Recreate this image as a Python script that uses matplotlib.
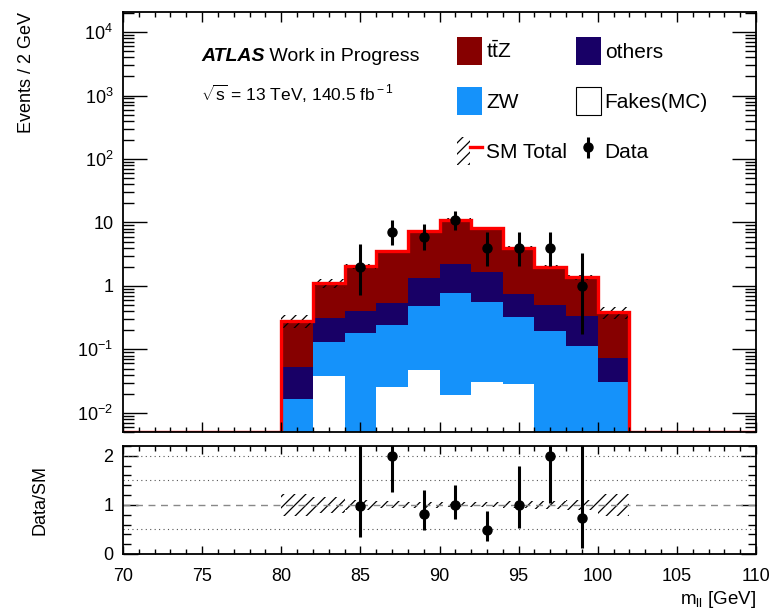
import numpy as np
import matplotlib
matplotlib.use('Agg')
import matplotlib.pyplot as plt
from matplotlib.patches import Patch
from matplotlib.lines import Line2D
from matplotlib.legend_handler import HandlerTuple
from matplotlib.ticker import MultipleLocator, LogLocator, FuncFormatter, NullFormatter

plt.rcParams['font.family'] = 'Liberation Sans'
plt.rcParams['mathtext.fontset'] = 'custom'
plt.rcParams['mathtext.rm'] = 'Liberation Sans'
plt.rcParams['mathtext.it'] = 'Liberation Sans:italic'
plt.rcParams['mathtext.bf'] = 'Liberation Sans:bold'
plt.rcParams['hatch.linewidth'] = 0.9

# m_ll binning, 2 GeV bins
edges = np.arange(80, 104, 2)

# stacked backgrounds (events per bin), bottom to top
fakes = [0.0, 0.0387, 0.0, 0.026, 0.0475, 0.0194, 0.0304, 0.0283, 0.0, 0.0, 0.0]
zw = [0.0164, 0.0943, 0.184, 0.217, 0.4365, 0.7656, 0.5356, 0.2927, 0.196, 0.115, 0.0311]
others = [0.0372, 0.177, 0.220, 0.303, 0.866, 1.415, 1.074, 0.419, 0.306, 0.226, 0.0432]
ttz = [0.230, 0.79, 1.64, 2.95, 5.95, 8.8, 6.56, 3.26, 1.50, 1.03, 0.311]

# relative uncertainty on SM total
rel_unc = [0.22, 0.16, 0.10, 0.07, 0.06, 0.05, 0.05, 0.07, 0.08, 0.10, 0.22]

# data with Poisson 68% intervals
data_x = [85, 87, 89, 91, 93, 95, 97, 99]
data_y = [2, 7, 6, 11, 4, 4, 4, 1]
data_lo = [0.708, 4.42, 3.62, 7.74, 2.09, 2.09, 2.09, 0.173]
data_hi = [4.64, 10.77, 9.58, 15.42, 7.16, 7.16, 7.16, 3.30]

c_ttz = '#860000'
c_oth = '#180066'
c_zw = '#1592FA'

ymin, ymax = 5.0e-3, 2.07e4
floor = 1e-6

fig = plt.figure(figsize=(7.73, 6.11), dpi=100)
ax = fig.add_axes([0.1591, 0.2930, 0.8190, 0.6874])
rax = fig.add_axes([0.1591, 0.0933, 0.8190, 0.1768], sharex=ax)

# stack
layers = [(fakes, 'white'), (zw, c_zw), (others, c_oth), (ttz, c_ttz)]
base = np.zeros(len(ttz))
for vals, col in layers:
    top = base + np.array(vals)
    ax.stairs(np.maximum(top, floor), edges, baseline=np.maximum(base, floor),
              fill=True, color=col, lw=0)
    base = top
total = base
rel = np.array(rel_unc)

ax.stairs(total * (1 + rel), edges, baseline=total * (1 - rel), fill=True,
          facecolor='none', edgecolor='black', hatch='///', lw=0)

# SM total outline across the whole range
full_edges = np.concatenate([[70], edges, [110]])
full_total = np.concatenate([[ymin], total, [ymin]])
ax.stairs(full_total, full_edges, color='#FF0000', lw=2.4, baseline=None)

dy = np.array(data_y, dtype=float)
yerr = [dy - np.array(data_lo), np.array(data_hi) - dy]
h_data = ax.errorbar(data_x, dy, yerr=yerr, fmt='o', color='black', ms=6.5,
                     elinewidth=2.2, capsize=0)

ax.set_yscale('log')
ax.set_xlim(70, 110)
ax.set_ylim(ymin, ymax)


def log_fmt(v, pos):
    n = int(round(np.log10(v)))
    if n == 0:
        return '1'
    if n == 1:
        return '10'
    return r'$10^{%d}$' % n


ax.yaxis.set_major_locator(LogLocator(base=10, numticks=20))
ax.yaxis.set_minor_locator(LogLocator(base=10, subs=np.arange(2, 10), numticks=20))
ax.yaxis.set_major_formatter(FuncFormatter(log_fmt))
ax.yaxis.set_minor_formatter(NullFormatter())
ax.xaxis.set_major_locator(MultipleLocator(5))
ax.xaxis.set_minor_locator(MultipleLocator(1))
ax.tick_params(axis='x', which='both', direction='in', top=True, labelbottom=False)
ax.tick_params(axis='x', which='major', length=7, width=1)
ax.tick_params(axis='x', which='minor', length=3.6, width=1)
ax.tick_params(axis='y', which='both', direction='in', right=True, labelsize=13, pad=7)
ax.tick_params(axis='y', which='major', length=17, width=1)
ax.tick_params(axis='y', which='minor', length=8, width=1)
for s in ax.spines.values():
    s.set_linewidth(1.3)

# ratio panel
idx = [(x - 80) // 2 for x in data_x]
tot_at = total[idx]
ratio = dy / tot_at
rerr = [yerr[0] / tot_at, yerr[1] / tot_at]

for yv in [0.5, 1.5, 2.0]:
    rax.axhline(yv, color='#555555', ls=(0, (1, 3)), lw=0.8)
rax.axhline(1.0, color='#888888', ls=(0, (5, 4)), lw=1.0)
rax.stairs(1 + rel, edges, baseline=1 - rel, fill=True, facecolor='none',
           edgecolor='black', hatch='///', lw=0)
rax.errorbar(data_x, ratio, yerr=rerr, fmt='o', color='black', ms=6.5,
             elinewidth=2.2, capsize=0)

rax.set_ylim(0, 2.2)
rax.yaxis.set_major_locator(MultipleLocator(1))
rax.yaxis.set_minor_locator(MultipleLocator(0.2))
rax.tick_params(axis='x', which='both', direction='in', top=True, labelsize=13, pad=10)
rax.tick_params(axis='x', which='major', length=6, width=1)
rax.tick_params(axis='x', which='minor', length=3.6, width=1)
rax.tick_params(axis='y', which='both', direction='in', right=True, labelsize=13, pad=7)
rax.tick_params(axis='y', which='major', length=11, width=1)
rax.tick_params(axis='y', which='minor', length=6, width=1)
for s in rax.spines.values():
    s.set_linewidth(1.3)

fig.text(27 / 773, 1 - 12 / 611, 'Events / 2 GeV', rotation=90, ha='center',
         va='top', fontsize=13)
fig.text(40 / 773, 1 - 500 / 611, 'Data/SM', rotation=90, ha='center',
         va='center', fontsize=13)
fig.text(756 / 773, 1 - 610 / 611, r'm$_{\rm ll}$ [GeV]', ha='right',
         va='bottom', fontsize=13.5)

# ATLAS label
t1 = fig.text(201 / 773, 1 - 61 / 611, 'ATLAS', fontsize=14, fontweight='bold',
              fontstyle='italic', va='baseline')
ax.annotate(' Work in Progress', xy=(1, 0), xycoords=t1, fontsize=14,
            va='bottom', ha='left')
fig.text(201 / 773, 1 - 101 / 611, r'$\sqrt{\rm s}$ = 13 TeV, 140.5 fb$^{\rm -1}$',
         fontsize=12.5, va='baseline')

h_ttz = Patch(facecolor=c_ttz, edgecolor='none')
h_zw = Patch(facecolor=c_zw, edgecolor='none')
h_oth = Patch(facecolor=c_oth, edgecolor='none')
h_fake = Patch(facecolor='white', edgecolor='black', lw=0.8)
h_sm = (Patch(facecolor='none', edgecolor='black', hatch='///', lw=0),
        Line2D([], [], color='#FF0000', lw=2.4))

leg = ax.legend([h_ttz, h_zw, h_sm, h_oth, h_fake, h_data],
                [r'$\mathrm{t\bar{t}Z}$', 'ZW', 'SM Total', 'others', 'Fakes(MC)', 'Data'],
                ncol=2, loc='upper left', bbox_to_anchor=(457 / 773, 1 - 37 / 611),
                bbox_transform=fig.transFigure, frameon=False, fontsize=15,
                handlelength=1.2, handleheight=1.7, handletextpad=0.2,
                labelspacing=1.05, columnspacing=0.4, borderpad=0, borderaxespad=0,
                handler_map={tuple: HandlerTuple(ndivide=None)})

fig.savefig('out.png', dpi=100)
